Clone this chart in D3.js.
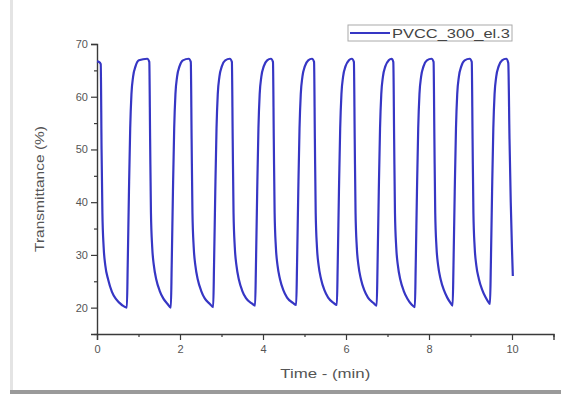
<!DOCTYPE html>
<html>
<head>
<meta charset="utf-8">
<script src="https://cdn.jsdelivr.net/npm/d3@7"></script>
<style>
  html, body { margin: 0; padding: 0; background: #fff; }
  svg { display: block; }
  text { font-family: "Liberation Sans", Arial, sans-serif; }
</style>
</head>
<body>
<svg id="chart" width="561" height="394"></svg>
<script>
// Switching cycles of the PVCC film: time (min) and transmittance (%)
const timeMin = [
  0.00, 0.05, 0.09, 0.11, 0.13, 0.16, 0.20, 0.27, 0.36, 0.46, 0.60, 0.72,
  0.74, 0.77, 0.80, 0.83, 0.87, 0.93, 1.01, 1.21,
  1.26, 1.28, 1.30, 1.33, 1.37, 1.43, 1.51, 1.60, 1.70, 1.78,
  1.80, 1.83, 1.86, 1.89, 1.93, 1.99, 2.07, 2.21,
  2.26, 2.28, 2.30, 2.33, 2.37, 2.43, 2.51, 2.60, 2.72, 2.80,
  2.82, 2.85, 2.88, 2.91, 2.95, 3.01, 3.09, 3.20,
  3.25, 3.27, 3.29, 3.32, 3.36, 3.42, 3.50, 3.59, 3.73, 3.81,
  3.83, 3.86, 3.89, 3.92, 3.96, 4.02, 4.10, 4.19,
  4.24, 4.26, 4.28, 4.31, 4.35, 4.41, 4.49, 4.58, 4.72, 4.80,
  4.82, 4.85, 4.88, 4.91, 4.95, 5.01, 5.09, 5.18,
  5.23, 5.25, 5.27, 5.30, 5.34, 5.40, 5.48, 5.57, 5.70, 5.78,
  5.80, 5.83, 5.86, 5.89, 5.93, 5.99, 6.07, 6.14,
  6.19, 6.21, 6.23, 6.26, 6.30, 6.36, 6.44, 6.53, 6.66, 6.74,
  6.76, 6.79, 6.82, 6.85, 6.89, 6.95, 7.03, 7.10,
  7.14, 7.16, 7.18, 7.21, 7.25, 7.31, 7.39, 7.48, 7.58, 7.66,
  7.68, 7.71, 7.74, 7.77, 7.81, 7.87, 7.95, 8.06,
  8.11, 8.13, 8.15, 8.18, 8.22, 8.28, 8.36, 8.44, 8.51, 8.57,
  8.59, 8.62, 8.65, 8.68, 8.72, 8.78, 8.86, 8.98,
  9.03, 9.05, 9.07, 9.10, 9.14, 9.20, 9.28, 9.36, 9.42, 9.47,
  9.49, 9.52, 9.55, 9.58, 9.62, 9.68, 9.76, 9.86,
  9.91, 9.94, 9.97, 10.00, 10.02
];
const transmittance = [
  66.7, 66.6, 66.2, 50.0, 38.0, 31.5, 28.0, 25.3, 23.0, 21.6, 20.5, 20.0,
  28.0, 42.0, 54.0, 60.5, 63.8, 65.8, 66.9, 67.2,
  66.6, 52.0, 38.0, 31.5, 28.0, 25.3, 23.2, 21.7, 20.7, 20.0,
  28.0, 42.0, 54.0, 60.5, 63.8, 65.8, 66.9, 67.2,
  66.6, 52.0, 38.0, 31.5, 28.0, 25.3, 23.2, 21.7, 20.7, 20.1,
  28.0, 42.0, 54.0, 60.5, 63.8, 65.8, 66.9, 67.2,
  66.6, 52.0, 38.0, 31.5, 28.0, 25.3, 23.2, 21.8, 20.8, 20.4,
  28.0, 42.0, 54.0, 60.5, 63.8, 65.8, 66.9, 67.2,
  66.6, 52.0, 38.0, 31.5, 28.0, 25.4, 23.3, 21.9, 20.9, 20.5,
  28.0, 42.0, 54.0, 60.5, 63.8, 65.8, 66.9, 67.2,
  66.6, 52.0, 38.0, 31.5, 28.0, 25.4, 23.3, 21.9, 20.9, 20.5,
  28.0, 42.0, 54.0, 60.5, 63.8, 65.8, 66.9, 67.2,
  66.6, 52.0, 38.0, 31.5, 28.0, 25.4, 23.3, 21.9, 20.9, 20.4,
  28.0, 42.0, 54.0, 60.5, 63.8, 65.8, 66.9, 67.2,
  66.6, 52.0, 38.0, 31.5, 28.0, 25.3, 23.2, 21.7, 20.6, 20.1,
  28.0, 42.0, 54.0, 60.5, 63.8, 65.8, 66.9, 67.2,
  66.6, 52.0, 38.0, 31.5, 28.0, 25.4, 23.3, 21.9, 21.0, 20.4,
  28.0, 42.0, 54.0, 60.5, 63.8, 65.8, 66.9, 67.2,
  66.6, 52.0, 38.0, 31.5, 28.0, 25.5, 23.4, 22.0, 21.2, 20.7,
  28.0, 42.0, 54.0, 60.5, 63.8, 65.8, 66.9, 67.2,
  66.4, 52.0, 40.0, 31.0, 26.0
];
const seriesName = "PVCC_300_el.3";
const xMajorTicks = [0, 2, 4, 6, 8, 10];
const xMinorTicks = [1, 3, 5, 7, 9, 11];
const yMajorTicks = [20, 30, 40, 50, 60, 70];
const yMinorTicks = [15, 25, 35, 45, 55, 65];
const xTitle = "Time - (min)";
const yTitle = "Transmittance (%)";

const points = timeMin.map((t, i) => ({ t, v: transmittance[i] }));

const svg = d3.select("#chart");

// card shadow along the left and bottom edges
svg.append("rect").attr("x", 10).attr("y", 0).attr("width", 3).attr("height", 391)
  .attr("fill", "#e4e4e4");
svg.append("rect").attr("x", 10).attr("y", 390).attr("width", 551).attr("height", 4)
  .attr("fill", "#9a9a9a");

const x = d3.scaleLinear().domain([0, 11]).range([97, 553.5]);
const y = d3.scaleLinear().domain([15, 70]).range([334, 44]);

const axisColor = "#3a3a3a";
const labelColor = "#555";

// x axis
const gx = svg.append("g").attr("transform", `translate(0,${y(15)})`);
gx.call(d3.axisBottom(x).tickValues(xMajorTicks).tickSize(6).tickPadding(5).tickFormat(d3.format("d")));
gx.append("g").call(d3.axisBottom(x).tickValues(xMinorTicks).tickSize(3).tickFormat(""))
  .select(".domain").remove();

// y axis
const gy = svg.append("g").attr("transform", `translate(${x(0)},0)`);
gy.call(d3.axisLeft(y).tickValues(yMajorTicks).tickSize(6).tickPadding(3).tickFormat(d3.format("d")));
gy.append("g").call(d3.axisLeft(y).tickValues(yMinorTicks).tickSize(3).tickFormat(""))
  .select(".domain").remove();

svg.selectAll(".domain").attr("stroke", axisColor).attr("stroke-width", 1.4);
svg.selectAll(".tick line").attr("stroke", axisColor).attr("stroke-width", 1.2);
svg.selectAll(".tick text").attr("fill", labelColor).attr("font-size", 11)
  .attr("font-family", "'Liberation Sans', Arial, sans-serif");

// axis titles
svg.append("text")
  .attr("x", (x(0) + x(11)) / 2).attr("y", 378)
  .attr("text-anchor", "middle").attr("fill", labelColor).attr("font-size", 13)
  .attr("textLength", 90).attr("lengthAdjust", "spacingAndGlyphs")
  .text(xTitle);

svg.append("text")
  .attr("transform", `translate(44,${(y(15) + y(70)) / 2}) rotate(-90)`)
  .attr("text-anchor", "middle").attr("fill", labelColor).attr("font-size", 13)
  .attr("textLength", 126).attr("lengthAdjust", "spacingAndGlyphs")
  .text(yTitle);

// transmittance trace
const line = d3.line().x(d => x(d.t)).y(d => y(d.v)).curve(d3.curveMonotoneX);
svg.append("path").datum(points)
  .attr("d", line)
  .attr("fill", "none")
  .attr("stroke", "#3636c4")
  .attr("stroke-width", 2.2)
  .attr("stroke-linejoin", "round");

// legend
const lg = svg.append("g").attr("transform", "translate(348,25)");
lg.append("rect").attr("width", 164).attr("height", 16)
  .attr("fill", "#fff").attr("stroke", "#aaa").attr("stroke-width", 1);
lg.append("line").attr("x1", 2).attr("x2", 42).attr("y1", 8).attr("y2", 8)
  .attr("stroke", "#3636c4").attr("stroke-width", 2.2);
lg.append("text").attr("x", 44).attr("y", 12.5)
  .attr("fill", "#444").attr("font-size", 12)
  .attr("textLength", 118).attr("lengthAdjust", "spacingAndGlyphs")
  .text(seriesName);
</script>
</body>
</html>
